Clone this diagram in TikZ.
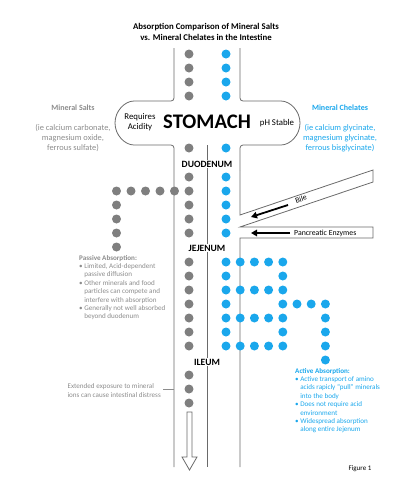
\documentclass[tikz,border=0pt]{standalone}
\usepackage{fontspec}
\setmainfont{Carlito}
\usepackage{tikz}
\usetikzlibrary{arrows.meta,positioning}

\definecolor{saltgray}{HTML}{7F7F7F}
\definecolor{chelblue}{HTML}{1AA7EC}
\definecolor{wallgray}{HTML}{6A6A6A}
\definecolor{txtgray}{HTML}{8C8C8C}

\begin{document}
\begin{tikzpicture}[
  x=1pt,y=-1pt,
  wall/.style={draw=wallgray,line width=0.8pt},
  sdot/.style={fill=saltgray},
  cdot/.style={fill=chelblue},
  seg/.style={font=\bfseries\fontsize{9.6}{10}\selectfont,fill=white,inner sep=1pt},
  head/.style={font=\bfseries\fontsize{8}{10}\selectfont,inner sep=0pt},
  lst/.style={font=\fontsize{8.4}{10}\selectfont,align=center,inner sep=0pt},
  note/.style={font=\fontsize{7.1}{8.4}\selectfont,align=left,inner sep=0pt},
  duct/.style={-{Triangle[length=6pt,width=6.5pt]},line width=1.8pt}
]
  \useasboundingbox (0,0) rectangle (406,480);

  % tube and stomach
  \draw[wall,rounded corners=3pt] (174,48) |- (137,101)
    arc[start angle=90,end angle=270,radius=22pt] -- (174,145) -- (174,467);
  \draw[wall,rounded corners=3pt] (240,48) |- (278,101)
    arc[start angle=90,end angle=-90,radius=22pt] -- (240,145) -- (240,170);
  \draw[wall] (240,170) -- (240,215) -- (373,170) -- (373,182) -- (240,227)
    -- (373,227) -- (373,238) -- (240,238) -- (240,467);
  \draw[wall] (207,145) -- (207,467);

  % title
  \node[font=\bfseries\fontsize{8.8}{10.5}\selectfont,align=center] (title) at (206,32)
    {Absorption Comparison of Mineral Salts\\vs. Mineral Chelates in the Intestine};

  % stomach labels
  \node[font=\bfseries\fontsize{20.7}{22}\selectfont,inner sep=0pt] (stomach) at (207,122) {STOMACH};
  \node[font=\fontsize{8.8}{10}\selectfont,align=center,inner sep=0pt] (acid) at (140,122) {Requires\\Acidity};
  \node[font=\fontsize{8.8}{10}\selectfont,inner sep=0pt] (phst) at (277,123) {pH Stable};

  % side headings
  \node[head,text=txtgray] (salts) at (73,108) {Mineral Salts};
  \node[lst,text=txtgray] (saltex) at (73,138)
    {(ie calcium carbonate,\\magnesium oxide,\\ferrous sulfate)};
  \node[head,text=chelblue] (chel) at (340,108) {Mineral Chelates};
  \node[lst,text=chelblue] (chelex) at (340,138)
    {(ie calcium glycinate,\\magnesium glycinate,\\ferrous bisglycinate)};

  % gray dots (mineral salts)
  \foreach \y in {54,68,82,96,148,177,191,205,219,233,262,276,290,304,318,332,346,375,389,403}
    \fill[sdot] (189,\y) circle (4.5pt);
  \foreach \k in {1,...,5}
    \fill[sdot] ({189-14.5*\k},191) circle (4.5pt);
  \foreach \y in {205,219,233,247}
    \fill[sdot] (116.5,\y) circle (4.5pt);

  % blue dots (mineral chelates)
  \foreach \y in {54,68,82,96,148,177,191,205,219,233}
    \fill[cdot] (226,\y) circle (4.5pt);
  \foreach \i/\j in {0/0,1/0,2/0,3/0,4/0, 0/1,4/1, 0/2,1/2,2/2,3/2,4/2,
                     0/3,4/3,5/3,6/3,7/3, 0/4,1/4,2/4,3/4,4/4,7/4,
                     0/5,4/5,7/5, 0/6,1/6,2/6,3/6,4/6,7/6, 7/7}
    \fill[cdot] ({226+14.2*\i},{262+14*\j}) circle (4.5pt);

  % segment labels
  \node[seg] (duod) at (207,164) {DUODENUM};
  \node[seg] (jej) at (207,248) {JEJENUM};
  \node[seg] (ileum) at (207,362) {ILEUM};

  % bile and pancreatic enzymes
  \coordinate (bilefrom) at (288,205);
  \coordinate (bileto) at (251,217);
  \draw[duct] (bilefrom) -- (bileto);
  \node[font=\fontsize{7.8}{8}\selectfont,rotate=18.7,inner sep=0pt] (bile) at (301,199) {Bile};
  \node[font=\fontsize{7.8}{9}\selectfont,anchor=west,inner sep=0pt] (panc) at (294,233) {Pancreatic Enzymes};
  \coordinate (pancto) at (251,233);
  \draw[duct] (panc.west) ++(-4,0) coordinate (pancfrom) -- (pancto);

  % passive absorption
  \node[note,text=txtgray,anchor=north west] (passive) at (79,255)
    {\textbf{Passive Absorption:}\\
     • Limited, Acid-dependent\\
     \phantom{• }passive diffusion\\
     • Other minerals and food\\
     \phantom{• }particles can compete and\\
     \phantom{• }interfere with absorption\\
     • Generally not well absorbed\\
     \phantom{• }beyond duodenum};

  % distress note
  \node[note,text=txtgray,anchor=east] (distress) at (161,390.5)
    {Extended exposure to mineral\\ions can cause intestinal distress};
  \coordinate (lwall) at (174,389);
  \draw[txtgray,line width=0.8pt] (distress.east) ++(2,-1.5) -- (lwall);

  % active absorption
  \node[note,text=chelblue,anchor=north west] (active) at (295,368)
    {\textbf{Active Absorption:}\\
     • Active transport of amino\\
     \phantom{• }acids rapicly “pull” minerals\\
     \phantom{• }into the body\\
     • Does not require acid\\
     \phantom{• }environment\\
     • Widespread absorption\\
     \phantom{• }along entire Jejenum};

  % flow arrow
  \draw[wall,fill=white] (187,412) -- (192,412) -- (192,457) -- (197,457)
    -- (189.5,470) -- (182,457) -- (187,457) -- cycle;

  \node[font=\fontsize{7}{8}\selectfont,inner sep=0pt] (fig) at (360,469) {Figure 1};
\end{tikzpicture}
\end{document}
